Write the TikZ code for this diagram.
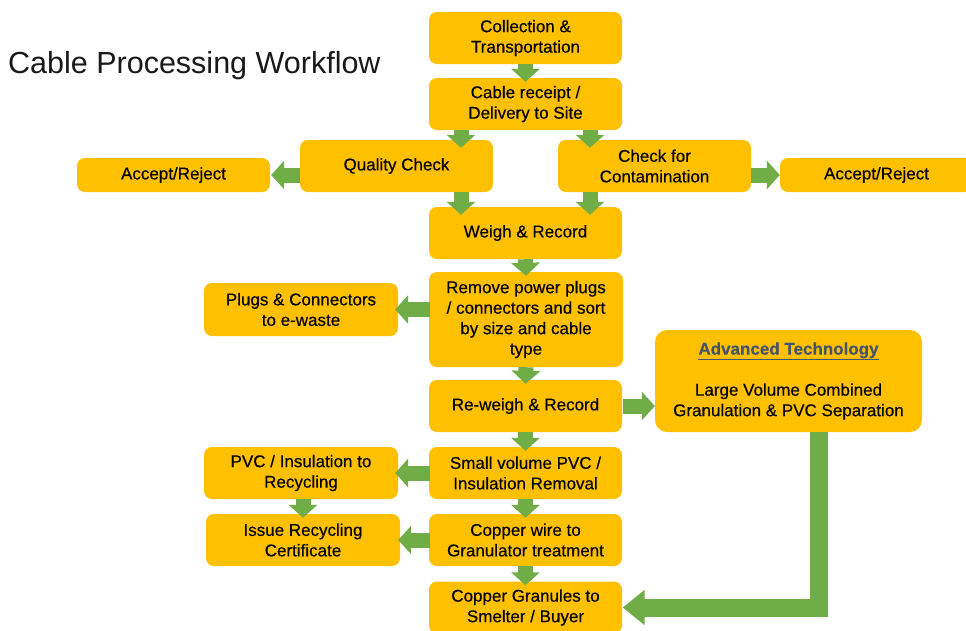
\documentclass[tikz,border=0pt]{standalone}
\usepackage{fontspec}
\setmainfont{Liberation Sans}
\newfontfamily\stepfont{Liberation Sans}[FakeBold=0.35]
\usetikzlibrary{arrows.meta}

\definecolor{boxfill}{HTML}{FFC000}
\definecolor{flowgreen}{HTML}{70AD47}
\definecolor{slate}{HTML}{44546A}

\tikzset{
  stepbox/.style={fill=boxfill, rounded corners=8pt, inner sep=0pt, align=center,
    minimum width=193pt, minimum height=52pt, text=black,
    font=\stepfont\fontsize{17}{20.5}\selectfont},
  blk/.style={draw=flowgreen, line width=15pt,
    -{Triangle[length=13pt, width=28pt]}},
  bigblk/.style={draw=flowgreen, line width=18pt, line join=miter,
    -{Triangle[length=22pt, width=34pt]}}
}

\begin{document}
\begin{tikzpicture}[x=1pt, y=-1pt]
\useasboundingbox (0,0) rectangle (966,630);

% title
\node[anchor=base west, inner sep=0pt, font=\fontsize{30.5}{36}\selectfont, text=black!90]
  (title) at (8,73) {Cable Processing Workflow};

% process steps
\node[stepbox] (collect) at (525.5,38) {Collection \&\\Transportation};
\node[stepbox] (receipt) at (525.5,104) {Cable receipt /\\Delivery to Site};
\node[stepbox] (quality) at (396.5,166) {Quality Check};
\node[stepbox] (contam) at (654.5,166) {Check for\\Contamination};
\node[stepbox, minimum height=34pt] (acceptL) at (173.5,175) {Accept/Reject};
\node[stepbox, minimum height=34pt] (acceptR) at (876.5,175) {Accept/Reject};
\node[stepbox] (weigh) at (525.5,233) {Weigh \& Record};
\node[stepbox, minimum width=194pt, minimum height=95pt] (remove) at (526,319.5)
  {Remove power plugs\\/ connectors and sort\\by size and cable\\type};
\node[stepbox, minimum width=194pt, minimum height=53pt] (plugs) at (301,309.5)
  {Plugs \& Connectors\\to e-waste};
\node[stepbox] (reweigh) at (525.5,406) {Re-weigh \& Record};
\node[stepbox, minimum width=267pt, minimum height=102pt, rounded corners=12pt] (adv) at (788.5,381)
  {{\color{slate}\underline{\textbf{Advanced Technology}}}\\[20.5pt]
   Large Volume Combined\\Granulation \& PVC Separation};
\node[stepbox] (small) at (525.5,473) {Small volume PVC /\\Insulation Removal};
\node[stepbox, minimum width=194pt] (pvc) at (301,473) {PVC / Insulation to\\Recycling};
\node[stepbox] (copper) at (525.5,540) {Copper wire to\\Granulator treatment};
\node[stepbox, minimum width=194pt] (issue) at (303,540) {Issue Recycling\\Certificate};
\node[stepbox] (granules) at (525.5,607.5) {Copper Granules to\\Smelter / Buyer};

% main flow
\draw[blk] (collect.south) -- ([yshift=-4pt]receipt.north);
\draw[blk] ([xshift=-64.5pt]receipt.south) -- ([xshift=64.5pt, yshift=-8pt]quality.north);
\draw[blk] ([xshift=64.5pt]receipt.south) -- ([xshift=-64.5pt, yshift=-8pt]contam.north);
\draw[blk] ([xshift=64.5pt]quality.south) -- ([xshift=-64.5pt, yshift=-8pt]weigh.north);
\draw[blk] ([xshift=-64.5pt]contam.south) -- ([xshift=64.5pt, yshift=-8pt]weigh.north);
\draw[blk] ([yshift=-9pt]quality.west) -- ([xshift=1pt, yshift=-9pt]quality.west -| acceptL.east);
\draw[blk] ([yshift=-9pt]contam.east) -- ([yshift=-9pt]contam.east -| acceptR.west);
\draw[blk] (weigh.south) -- ([yshift=-4pt]remove.north);
\draw[blk] ([xshift=1pt, yshift=10pt]remove.west) -- ([xshift=-3pt]plugs.east);
\draw[blk] (remove.south) -- ([yshift=-4pt]reweigh.north);
\draw[blk] ([xshift=1pt]reweigh.east) -- ([yshift=-25pt]adv.west);
\draw[blk] (reweigh.south) -- ([yshift=-4pt]small.north);
\draw[blk] ([xshift=1pt]small.west) -- ([xshift=-3pt]pvc.east);
\draw[blk] ([xshift=2pt]pvc.south) -- ([yshift=-4pt]issue.north);
\draw[blk] (small.south) -- ([yshift=-4pt]copper.north);
\draw[blk] ([xshift=1pt]copper.west) -- ([xshift=-2pt]issue.east);
\draw[blk] (copper.south) -- ([yshift=-4pt]granules.north);

% advanced route
\draw[bigblk] ([xshift=30.5pt]adv.south) |- ([xshift=0.5pt]granules.east);

\end{tikzpicture}
\end{document}
